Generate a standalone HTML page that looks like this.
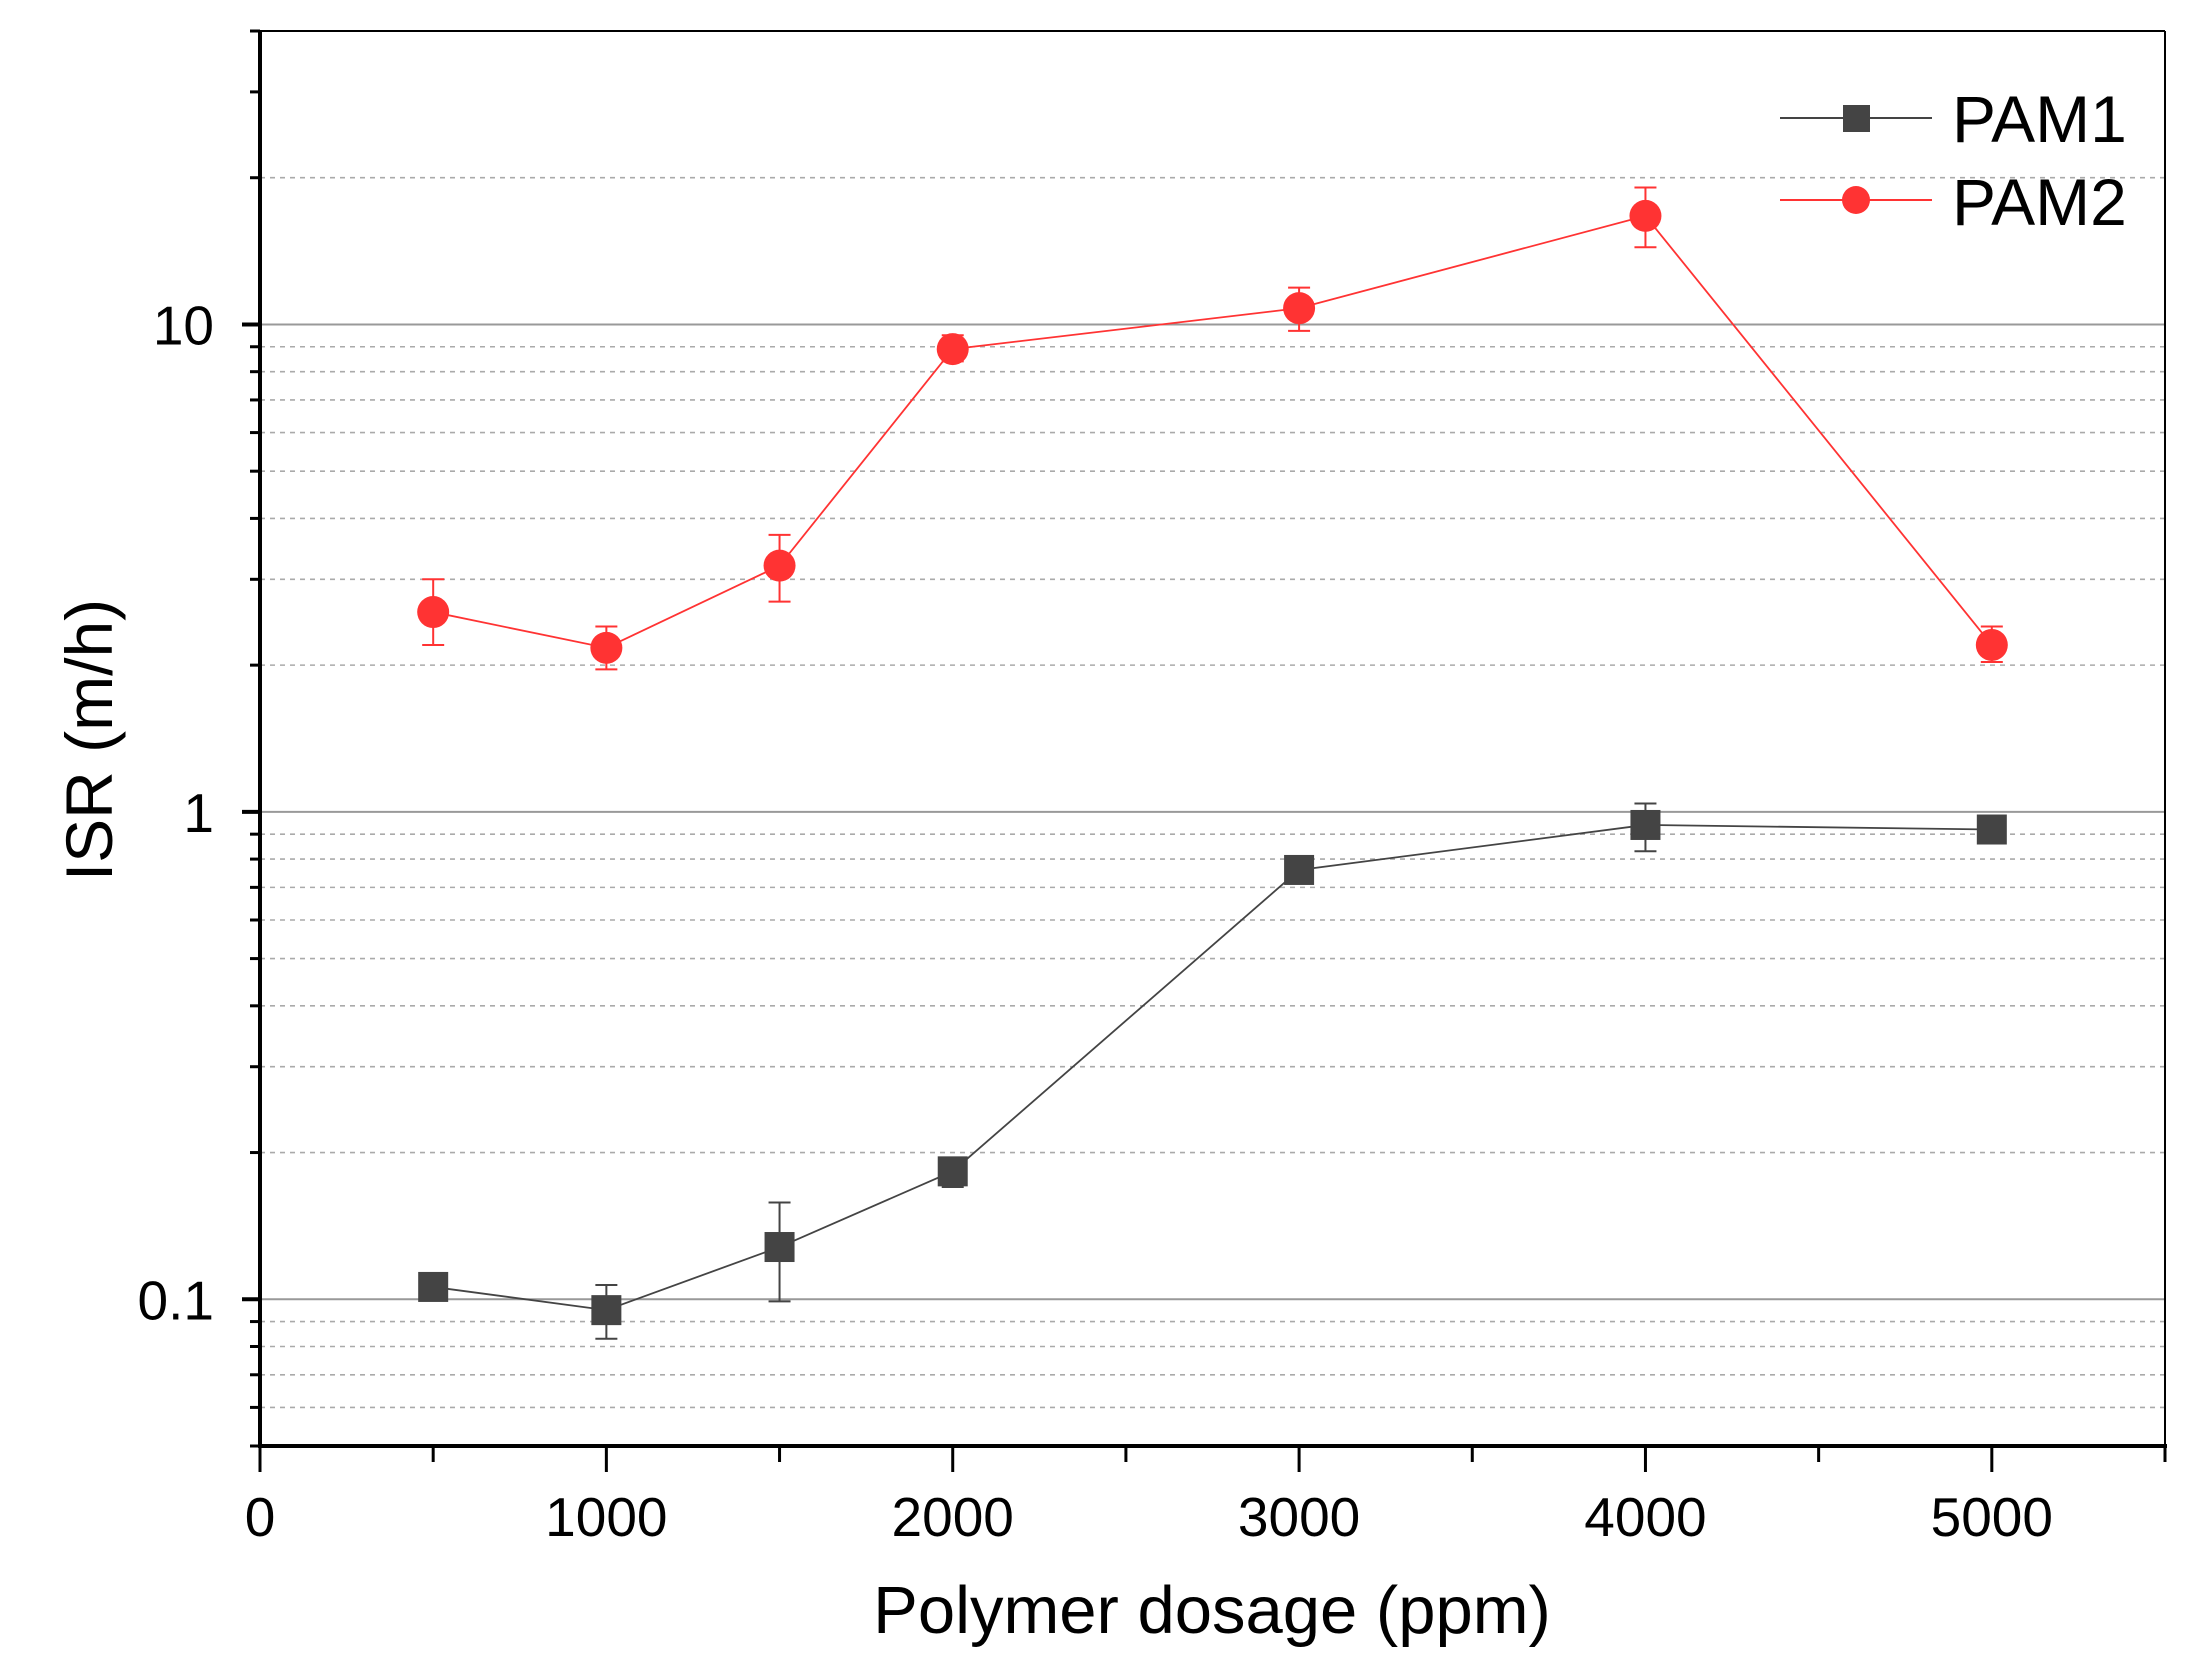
<!DOCTYPE html>
<html><head><meta charset="utf-8"><style>
html,body{margin:0;padding:0;background:#fff}
svg{display:block;font-family:"Liberation Sans",Arial,sans-serif}
</style></head><body>
<svg id="chart" width="2201" height="1669" viewBox="0 0 2201 1669" xmlns="http://www.w3.org/2000/svg">
<rect width="2201" height="1669" fill="#fff"/>
<g id="grid"></g>
<g id="axes"></g>
<g id="series"></g>
<text x="1212" y="1633" font-size="67" text-anchor="middle">Polymer dosage (ppm)</text>
<text transform="translate(112,740) rotate(-90)" font-size="66" text-anchor="middle">ISR (m/h)</text>
<g>
<g>
<line x1="1780" y1="118" x2="1932" y2="118" stroke="#444" stroke-width="2"/>
<rect x="1843" y="105" width="27" height="27" fill="#444"/>
<text x="1952" y="142" font-size="66">PAM1</text>
</g>
<g>
<line x1="1780" y1="200" x2="1932" y2="200" stroke="#f33" stroke-width="2"/>
<circle cx="1856" cy="200" r="14" fill="#f33"/>
<text x="1952" y="225" font-size="66">PAM2</text>
</g>
</g>
</svg>
<script>
const xValues=[500,1000,1500,2000,3000,4000,5000];
const pam1=[0.106,0.095,0.128,0.183,0.76,0.94,0.92];
const pam1Lo=[0.106,0.083,0.099,0.17,0.74,0.83,0.91];
const pam1Hi=[0.106,0.107,0.158,0.195,0.78,1.04,0.93];
const pam2=[2.57,2.17,3.2,8.9,10.8,16.7,2.2];
const pam2Lo=[2.2,1.96,2.7,8.4,9.7,14.4,2.03];
const pam2Hi=[3.0,2.4,3.7,9.5,11.9,19.1,2.4];
const xTicks=[0,1000,2000,3000,4000,5000];
const yTicks=[0.1,1,10];
const yTickLabels=["0.1","1","10"];

const L=260,R=2165,T=31,B=1446,XMAX=5500,YMIN=0.05,YMAX=40;
const sx=v=>L+(R-L)*v/XMAX;
const sy=v=>B-(B-T)*(Math.log10(v)-Math.log10(YMIN))/(Math.log10(YMAX)-Math.log10(YMIN));
const NS="http://www.w3.org/2000/svg";
function mk(tag,attrs,parent){const e=document.createElementNS(NS,tag);for(const k in attrs)e.setAttribute(k,attrs[k]);parent.appendChild(e);return e;}
const grid=document.getElementById('grid'),axes=document.getElementById('axes'),ser=document.getElementById('series');

for(let d=-2;d<=1;d++){for(let m=1;m<=9;m++){const v=m*Math.pow(10,d);if(v<YMIN||v>YMAX)continue;const y=sy(v);
 if(!(d===1&&m===3)){
 const ln=mk('line',{x1:L,x2:R,y1:y,y2:y,stroke:m===1?'#999':'#aaa','stroke-width':m===1?2:1.6,'stroke-dasharray':m===1?'':'5 5'},grid);
 
 
 }
 const tk=mk('line',{x1:L-(m===1?18:10),x2:L,y1:y,y2:y,stroke:'#000','stroke-width':m===1?4:3},axes);
 
 
}}
yTicks.forEach((v,i)=>{const t=mk('text',{x:L-46,y:sy(v)+20,'font-size':55,'text-anchor':'end'},axes);t.textContent=yTickLabels[i];
 
 });
for(let v=0;v<=5500;v+=500){const major=v%1000===0;const tk=mk('line',{x1:sx(v),x2:sx(v),y1:B,y2:B+(major?26:16),stroke:'#000','stroke-width':3},axes);
 
 }
xTicks.forEach(v=>{const t=mk('text',{x:sx(v),y:B+90,'font-size':55,'text-anchor':'middle'},axes);t.textContent=String(v);
 
 });
const f1=mk('line',{x1:L,x2:L,y1:T,y2:B+2,stroke:'#000','stroke-width':4},axes);


const f2=mk('line',{x1:L-2,x2:R+2,y1:B,y2:B,stroke:'#000','stroke-width':4},axes);


const f3=mk('line',{x1:L,x2:R,y1:T,y2:T,stroke:'#000','stroke-width':2},axes);


const f4=mk('line',{x1:R,x2:R,y1:T,y2:B,stroke:'#000','stroke-width':2},axes);



function drawSeries(vals,lo,hi,color,shape,name){
 const g=mk('g',{},ser);
 
 
 const pts=xValues.map((x,i)=>sx(x)+','+sy(vals[i])).join(' ');
 const pl=mk('polyline',{points:pts,fill:'none',stroke:color,'stroke-width':1.8},g);
 
 
 xValues.forEach((x,i)=>{const cx=sx(x);
  if(hi[i]!==lo[i]){const e=mk('path',{d:`M${cx},${sy(hi[i])}V${sy(lo[i])}M${cx-11},${sy(hi[i])}H${cx+11}M${cx-11},${sy(lo[i])}H${cx+11}`,stroke:color,'stroke-width':2,fill:'none'},g);
   
   }
  let m;
  if(shape==='square')m=mk('rect',{x:cx-15,y:sy(vals[i])-15,width:30,height:30,fill:color},g);
  else m=mk('circle',{cx:cx,cy:sy(vals[i]),r:16,fill:color},g);
  
  
 });
}
drawSeries(pam1,pam1Lo,pam1Hi,'#444','square','pam1');
drawSeries(pam2,pam2Lo,pam2Hi,'#f33','circle','pam2');
</script>
</body></html>
